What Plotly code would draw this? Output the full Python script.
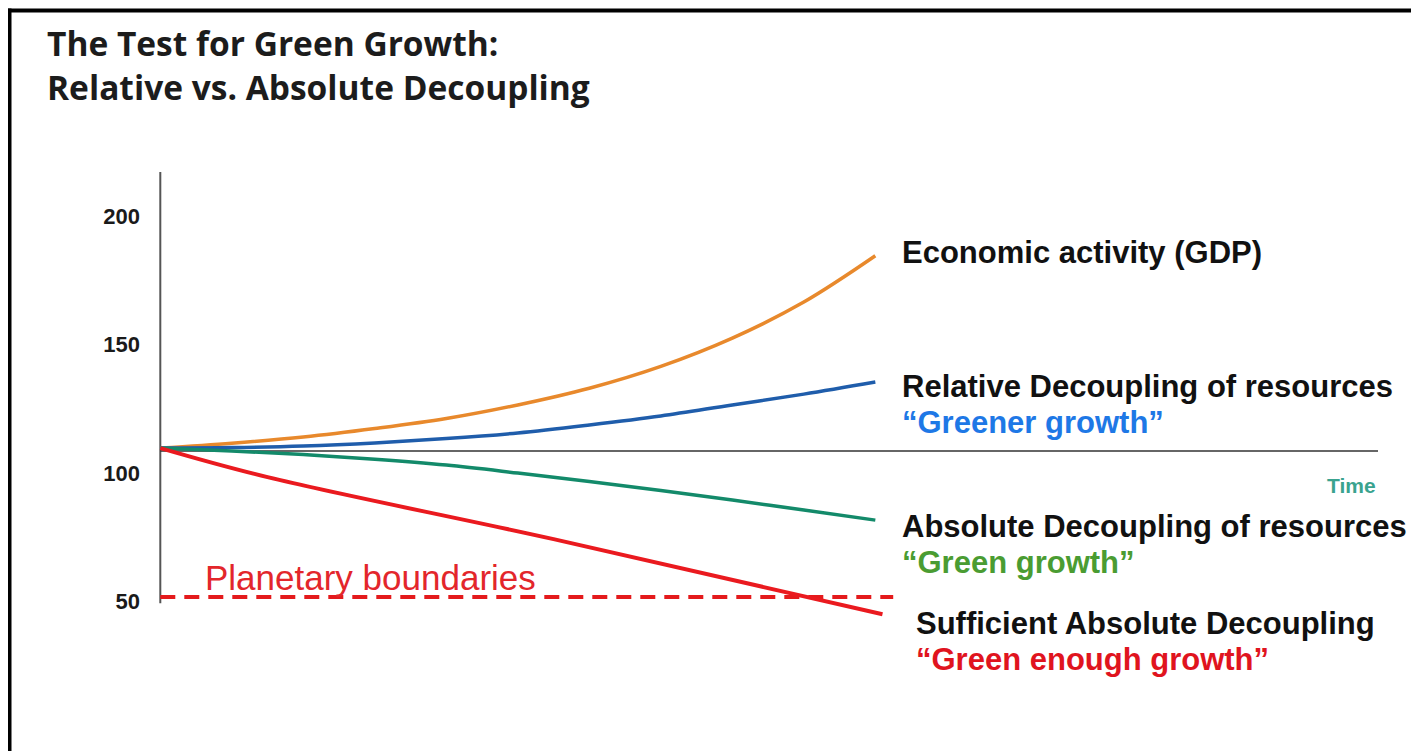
import plotly.graph_objects as go

# page body has an 8px margin, so the figure is shrunk and shifted by it
OFF = 8
W, H = 1419, 751
FW, FH = W - OFF, H - OFF

# ---- data (on its own y scale) ----
time = [0, 1, 2, 3, 4, 5, 6, 7, 8, 9, 10]
gdp = [109.7, 111.6, 114.0, 117.3, 121.2, 126.5, 133.0, 141.5, 152.5, 166.5, 184.5]
relative = [109.7, 109.9, 110.5, 111.7, 113.4, 115.6, 118.7, 122.2, 126.5, 130.7, 135.4]
absolute = [109.7, 108.6, 107.2, 105.4, 103.1, 100.0, 96.7, 93.2, 89.5, 85.6, 81.7]
red_time = [0, 1.5, 5.5, 10.1]
sufficient = [109.7, 98.4, 74.3, 45.1]
boundary_time = [0, 10.25]
boundary = [51.75, 51.75]
baseline_time = [0, 17.03]
baseline = [108.6, 108.6]
axis_time = [0, 0]
axis_span = [49.4, 217.1]
tick_values = [50, 100, 150, 200]
tick_labels = ["50", "100", "150", "200"]

X_RANGE = [-0.2, 17.03]
Y_RANGE = [40.9, 217.1]


def px(x):
    return (x - OFF) / FW


def py(y):
    return 1 - (y - OFF) / FH


fig = go.Figure()

# axis and baseline
fig.add_trace(go.Scatter(x=axis_time, y=axis_span, mode="lines",
                         line=dict(color="#555555", width=2), hoverinfo="skip"))
fig.add_trace(go.Scatter(x=baseline_time, y=baseline, mode="lines",
                         line=dict(color="#333333", width=1.5), hoverinfo="skip"))
# planetary boundary
fig.add_trace(go.Scatter(x=boundary_time, y=boundary, mode="lines",
                         line=dict(color="#e41a1c", width=4, dash="15px,9px")))
# series
fig.add_trace(go.Scatter(x=time, y=gdp, mode="lines", line=dict(color="#e8892c", width=3.5, shape="spline")))
fig.add_trace(go.Scatter(x=time, y=relative, mode="lines", line=dict(color="#1f5dab", width=3.5, shape="spline")))
fig.add_trace(go.Scatter(x=time, y=absolute, mode="lines", line=dict(color="#138a6a", width=3.5, shape="spline")))
fig.add_trace(go.Scatter(x=red_time, y=sufficient, mode="lines", line=dict(color="#ea1a1f", width=4, shape="spline")))

ann = []
title_font = dict(family="Open Sans", size=33.5, color="#1c1c1c", weight="bold")
ann.append(dict(text="The Test for Green Growth:", x=px(45), y=py(43), xref="paper", yref="paper",
                xanchor="left", yanchor="middle", showarrow=False, font=title_font))
ann.append(dict(text="Relative vs. Absolute Decoupling", x=px(45), y=py(87), xref="paper", yref="paper",
                xanchor="left", yanchor="middle", showarrow=False, font=title_font))

lab_font = "Liberation Sans, Arial, sans-serif"
labels = [
    ("Economic activity (GDP)", 900, 253, "#111111", 31),
    ("Relative Decoupling of resources", 900, 386, "#111111", 31),
    ("\u201cGreener growth\u201d", 900, 422, "#1e78e6", 31),
    ("Absolute Decoupling of resources", 900, 526, "#111111", 31),
    ("\u201cGreen growth\u201d", 900, 562, "#4a9c32", 31),
    ("Sufficient Absolute Decoupling", 914, 623, "#111111", 31),
    ("\u201cGreen enough growth\u201d", 914, 659, "#e0141e", 31),
    ("Time", 1325, 485, "#3aa38f", 21),
]
for t, x, y, c, s in labels:
    ann.append(dict(text=t, x=px(x), y=py(y), xref="paper", yref="paper",
                    xanchor="left", yanchor="middle", showarrow=False,
                    font=dict(family=lab_font, size=s, color=c, weight="bold")))

ann.append(dict(text="Planetary boundaries", x=0.6, y=59.5, xref="x", yref="y",
                xanchor="left", yanchor="middle", showarrow=False,
                font=dict(family=lab_font, size=35, color="#e3262b")))

fig.update_layout(
    width=FW, height=FH,
    margin=dict(l=0, r=0, t=0, b=0),
    paper_bgcolor="white", plot_bgcolor="white",
    showlegend=False,
    annotations=ann,
    xaxis=dict(domain=[px(146), px(1378)], range=X_RANGE, visible=False),
    yaxis=dict(domain=[py(625), py(172)], range=Y_RANGE, tickvals=tick_values, ticktext=tick_labels,
               showgrid=False, zeroline=False, showline=False, ticks="", ticklabelstandoff=5,
               tickfont=dict(family=lab_font, size=22, color="#1a1a1a", weight="bold")),
    shapes=[
        dict(type="line", xref="paper", yref="paper", x0=px(8), x1=1, y0=py(10.5), y1=py(10.5),
             line=dict(color="black", width=4)),
        dict(type="line", xref="paper", yref="paper", x0=px(9.5), x1=px(9.5), y0=0, y1=py(8.5),
             line=dict(color="black", width=4)),
    ],
)

fig.write_html("out.html")
